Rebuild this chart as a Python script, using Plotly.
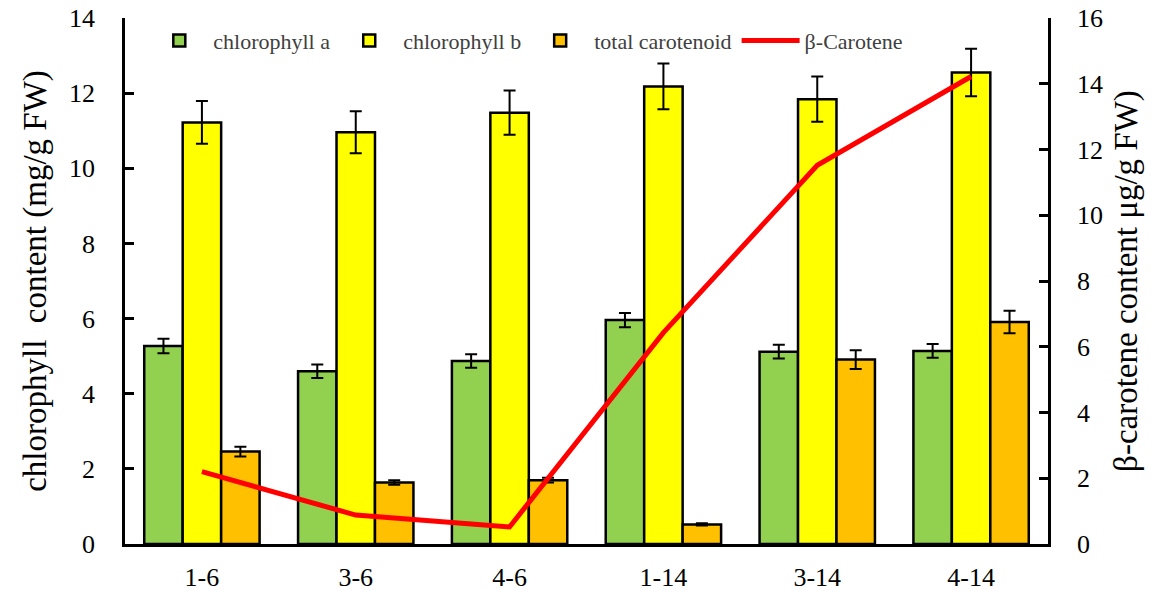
import plotly.graph_objects as go

categories = ["1-6", "3-6", "4-6", "1-14", "3-14", "4-14"]
chl_a = [5.27, 4.60, 4.87, 5.96, 5.12, 5.14]
chl_a_err = [0.19, 0.18, 0.18, 0.19, 0.18, 0.18]
chl_b = [11.22, 10.96, 11.48, 12.18, 11.84, 12.55]
chl_b_err = [0.57, 0.56, 0.59, 0.61, 0.60, 0.63]
carot = [2.46, 1.64, 1.70, 0.52, 4.91, 5.91]
carot_err = [0.13, 0.06, 0.06, 0.03, 0.25, 0.30]
beta_car = [2.20, 0.88, 0.52, 6.43, 11.52, 14.22]

FONT = "Liberation Serif"

fig = go.Figure()

def add_bar(name, vals, errs, color):
    fig.add_trace(go.Bar(
        x=categories, y=vals, name=name,
        marker=dict(color=color, line=dict(color="black", width=2.5)),
        error_y=dict(type="data", array=errs, visible=True,
                     color="black", thickness=2, width=6),
    ))

add_bar("chlorophyll a", chl_a, chl_a_err, "#92D050")
add_bar("chlorophyll b", chl_b, chl_b_err, "#FFFF00")
add_bar("total carotenoid", carot, carot_err, "#FFC000")

fig.add_trace(go.Scatter(
    x=categories, y=beta_car, name="β-Carotene", yaxis="y2",
    mode="lines", line=dict(color="#FF0000", width=5),
))

fig.update_layout(
    width=1162, height=591,
    margin=dict(l=125, r=114, t=18, b=47),
    paper_bgcolor="white", plot_bgcolor="white",
    barmode="group", bargap=0.25, bargroupgap=0,
    font=dict(family=FONT, color="black", size=26),
    showlegend=True,
    legend=dict(orientation="h", x=0.022, y=0.997, xanchor="left", yanchor="top",
                bgcolor="rgba(0,0,0,0)", font=dict(size=22, color="#404040"),
                itemwidth=58, tracegroupgap=0),
    xaxis=dict(
        type="category", range=[-0.5, 5.5], automargin=False,
        showline=True, linecolor="black", linewidth=2.5,
        ticks="", showgrid=False, zeroline=False,
        tickfont=dict(size=26, family=FONT), ticklabelstandoff=8,
    ),
    yaxis=dict(
        range=[0, 14], dtick=2, tick0=0, automargin=False,
        showline=True, linecolor="black", linewidth=2.5,
        ticks="inside", ticklen=9, tickwidth=2.5, tickcolor="black",
        showgrid=False, zeroline=False,
        tickfont=dict(size=26, family=FONT), ticklabelstandoff=22,
        title=dict(text="chlorophyll\u00a0\u00a0content (mg/g FW)",
                   font=dict(size=33, family=FONT), standoff=13),
    ),
    yaxis2=dict(
        range=[0, 16], dtick=2, tick0=0, overlaying="y", side="right", automargin=False,
        showline=True, linecolor="black", linewidth=2.5,
        ticks="inside", ticklen=9, tickwidth=2.5, tickcolor="black",
        showgrid=False, zeroline=False,
        tickfont=dict(size=26, family=FONT), ticklabelstandoff=21,
        title=dict(text="β-carotene content μg/g FW)",
                   font=dict(size=33, family=FONT), standoff=12),
    ),
)

fig.write_html("out.html")
